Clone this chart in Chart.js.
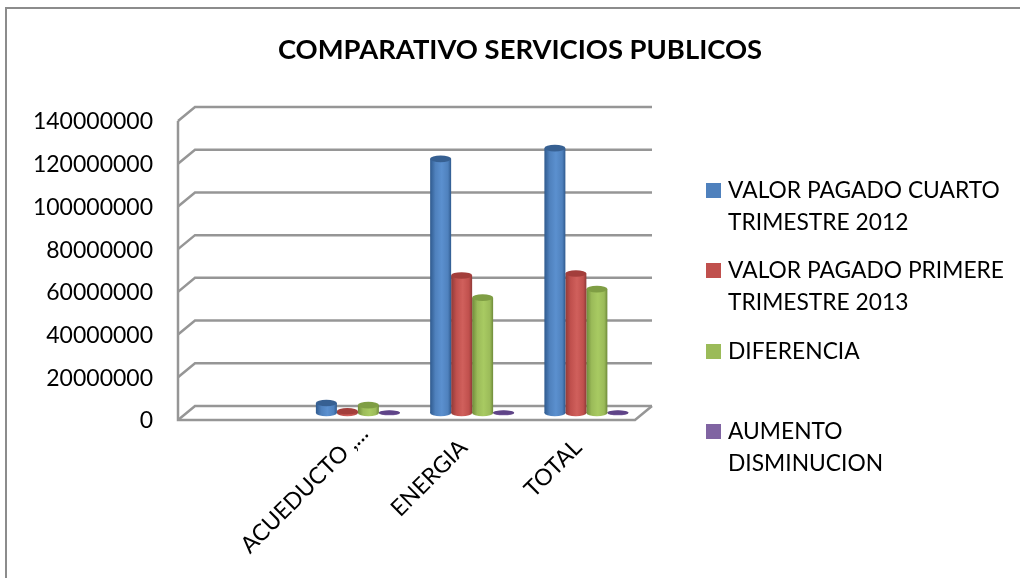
<!DOCTYPE html>
<html><head><meta charset="utf-8">
<style>html,body{margin:0;padding:0;background:#fff}#w{width:1020px;height:578px}</style>
<script src="https://cdn.jsdelivr.net/npm/chart.js@4"></script>
</head><body><div id="w"><canvas id="c" width="1020" height="578"></canvas></div>
<script>
const categories = ["", "ACUEDUCTO ,...", "ENERGIA", "TOTAL"];
const valorCuarto2012 = [null, 4700000, 119000000, 124000000];
const valorPrimer2013 = [null, 800000, 64400000, 65300000];
const diferencia = [null, 3700000, 54000000, 58000000];
const aumentoDisminucion = [null, 200000, 200000, 200000];
const seriesNames = ["VALOR PAGADO CUARTO TRIMESTRE 2012","VALOR PAGADO PRIMERE TRIMESTRE 2013","DIFERENCIA","AUMENTO DISMINUCION"];
const seriesColors = ["#4F81BD","#C0504D","#9BBB59","#8064A2"];
const topColors = ["#376092","#A33E3B","#7F9E44","#5F4488"];
const edgeColors = ["#2F5A8E","#8F3A38","#6F8B3A","#5F497A"];
const lightColors = ["#5B90CF","#D0605C","#A8CA62","#8C70B0"];
const legendLines = [["VALOR PAGADO CUARTO","TRIMESTRE 2012"],["VALOR PAGADO PRIMERE","TRIMESTRE 2013"],["DIFERENCIA"],["AUMENTO","DISMINUCION"]];
const legendY = [190,270,351,431];
const labelShift = [[0,0],[15,-14],[0,0],[0,0]];
const radiusY = [3.3,3.3,3.3,2.3];
const FONT = "Lato, Carlito, sans-serif";
const DX = 8.5, DY = -7, BX = 17, BY = -14;

const frame = {
  id:'frame',
  beforeDraw(chart){
    const c = chart.ctx; c.save();
    c.strokeStyle = '#8c8c8c'; c.lineWidth = 2;
    c.beginPath(); c.moveTo(6,578); c.lineTo(6,8); c.lineTo(1020,8); c.stroke();
    const y = chart.scales.y, a = chart.chartArea;
    c.strokeStyle = '#969696'; c.lineWidth = 2.5;
    y.ticks.forEach(t=>{
      const p = y.getPixelForValue(t.value);
      c.beginPath(); c.moveTo(a.left,p); c.lineTo(a.left+BX,p+BY); c.lineTo(a.right+BX,p+BY); c.stroke();
    });
    c.beginPath(); c.moveTo(a.left,a.top); c.lineTo(a.left,a.bottom); c.lineTo(a.right,a.bottom); c.lineTo(a.right+BX,a.bottom+BY); c.stroke();
    c.restore();
    chart.scales.x.getLabelItems().forEach((it,i)=>{
      const k = chart.scales.x.ticks.indexOf(it.tick);
      const s = labelShift[k>=0?k:i] || [0,0];
      if(!it._moved){ it.options.translation = [it.options.translation[0]+s[0], it.options.translation[1]+s[1]]; it._moved = true; }
    });
    chart.scales.y.getLabelItems().forEach(it=>{
      if(!it._moved){ it.options.translation = [it.options.translation[0], it.options.translation[1]+1]; it._moved = true; }
    });
  }
};
const hasValue = (chart,i,idx)=> chart.data.datasets[i].data[idx] != null;
const cylinder = {
  id:'cylinder',
  afterDatasetsUpdate(chart){
    const c = chart.ctx;
    chart.data.datasets.forEach((d,i)=>{
      chart.getDatasetMeta(i).data.forEach(el=>{
        const g = c.createLinearGradient(el.x-el.width/2,0,el.x+el.width/2,0);
        g.addColorStop(0,edgeColors[i]); g.addColorStop(0.25,seriesColors[i]); g.addColorStop(0.55,lightColors[i]); g.addColorStop(0.85,seriesColors[i]); g.addColorStop(1,edgeColors[i]);
        el.options = Object.assign({},el.options,{backgroundColor:g});
      });
    });
  },
  beforeDatasetDraw(chart,args){
    const c = chart.ctx; c.save(); c.translate(DX,DY);
    chart.getDatasetMeta(args.index).data.forEach((el,idx)=>{
      if (!hasValue(chart,args.index,idx)) return;
      c.fillStyle = el.options.backgroundColor;
      c.beginPath(); c.ellipse(el.x,el.base,el.width/2,radiusY[args.index],0,0,Math.PI*2); c.fill();
    });
  },
  afterDatasetDraw(chart,args){
    const c = chart.ctx;
    chart.getDatasetMeta(args.index).data.forEach((el,idx)=>{
      if (!hasValue(chart,args.index,idx)) return;
      c.fillStyle = topColors[args.index];
      c.beginPath(); c.ellipse(el.x,el.y,el.width/2,radiusY[args.index],0,0,Math.PI*2); c.fill();
    });
    c.restore();
  }
};
const sideLegend = {
  id:'sideLegend',
  afterDraw(chart){
    const c = chart.ctx; c.save();
    c.font = "22.8px "+FONT; c.textBaseline='middle'; c.textAlign='left';
    chart.data.datasets.forEach((d,i)=>{
      c.fillStyle = seriesColors[i];
      c.fillRect(706,legendY[i]-7,15,15);
      c.fillStyle = '#000';
      legendLines[i].forEach((l,k)=>c.fillText(l,728,legendY[i]+1+k*32));
    });
    c.restore();
  }
};
new Chart(document.getElementById('c'),{
  type:'bar',
  data:{labels:categories,datasets:[
    {label:seriesNames[0],data:valorCuarto2012,backgroundColor:seriesColors[0]},
    {label:seriesNames[1],data:valorPrimer2013,backgroundColor:seriesColors[1]},
    {label:seriesNames[2],data:diferencia,backgroundColor:seriesColors[2]},
    {label:seriesNames[3],data:aumentoDisminucion,backgroundColor:seriesColors[3]}
  ]},
  plugins:[frame,cylinder,sideLegend],
  options:{
    responsive:false,animation:false,
    layout:{padding:{left:20,right:0,top:0,bottom:0}},
    datasets:{bar:{categoryPercentage:0.735,barPercentage:1,borderWidth:0}},
    plugins:{
      legend:{display:false},tooltip:{enabled:false},
      title:{display:true,text:"COMPARATIVO SERVICIOS PUBLICOS",color:'#000',font:{family:FONT,size:27.4,weight:'bold'},padding:{top:34,bottom:54.1}}
    },
    scales:{
      x:{grid:{display:false},border:{display:false},afterFit(s){s.height=158;},
        ticks:{minRotation:45,maxRotation:45,autoSkip:false,color:'#000',font:{family:FONT,size:23},padding:6,labelOffset:0}},
      y:{min:0,max:140000000,afterFit(s){s.width=158;},grid:{display:false},border:{display:false},
        ticks:{stepSize:20000000,padding:17,color:'#000',font:{family:FONT,size:23},callback:v=>String(v)}},
      r:{position:'right',display:true,afterFit(s){s.width=385;},grid:{display:false},border:{display:false},ticks:{display:false}}
    }
  }
});
</script></body></html>
